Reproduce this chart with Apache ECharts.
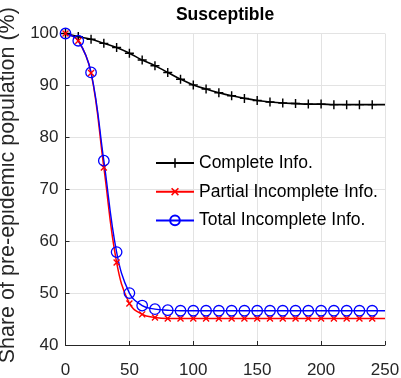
<!DOCTYPE html>
<html>
<head>
<meta charset="utf-8">
<script src="https://cdn.jsdelivr.net/npm/echarts@6/dist/echarts.min.js"></script>
<style>
html,body{margin:0;padding:0;background:#fff;}
#chart{width:401px;height:378px;}
</style>
</head>
<body>
<div id="chart"></div>
<script>
const titleText = 'Susceptible';
const yAxisName = 'Share of pre-epidemic population (%)';
const seriesNames = ['Complete Info.', 'Partial Incomplete Info.', 'Total Incomplete Info.'];
const xValues = [0,10,20,30,40,50,60,70,80,90,100,110,120,130,140,150,160,170,180,190,200,210,220,230,240,250];
const completeInfo = [100,99.4,98.9,98.1,97.3,96.2,94.9,93.8,92.5,91.2,90.1,89.3,88.6,88.0,87.5,87.1,86.8,86.6,86.5,86.4,86.4,86.3,86.3,86.3,86.3,86.3];
const partialInfo = [100,98.6,92.4,74.2,55.9,48.0,45.9,45.3,45.1,45.1,45.1,45.1,45.1,45.1,45.1,45.1,45.1,45.1,45.1,45.1,45.1,45.1,45.1,45.1,45.1,45.1];
const totalInfo = [100,98.6,92.5,75.5,57.9,50.0,47.6,46.9,46.7,46.6,46.6,46.6,46.6,46.6,46.6,46.6,46.6,46.6,46.6,46.6,46.6,46.6,46.6,46.6,46.6,46.6];
const xTicks = [0,50,100,150,200,250];
const yTicks = [40,50,60,70,80,90,100];

const font = "'Liberation Sans', Arial, sans-serif";
const plusPath = 'path://M4.2,0H5.8V4.2H10V5.8H5.8V10H4.2V5.8H0V4.2H4.2Z';

function toData(vals){
  return vals.map((v,i)=> i === vals.length-1 ? {value:[xValues[i], v], symbol:'none'} : [xValues[i], v]);
}

const chart = echarts.init(document.getElementById('chart'), null, {renderer:'canvas'});
chart.setOption({
  animation:false,
  backgroundColor:'#fff',
  title:{
    text:titleText, left:220, top:1, textAlign:'center',
    textStyle:{fontFamily:font, fontWeight:'bold', fontSize:17.5, color:'#000'}
  },
  grid:{left:65.5, right:16, top:33.5, bottom:33, containLabel:false, outerBoundsMode:'none'},
  legend:{
    orient:'vertical', left:150, top:148, itemWidth:38, itemHeight:12, itemGap:8.7,
    textStyle:{fontFamily:font, fontSize:17.5, color:'#000', lineHeight:20},
    data:seriesNames
  },
  xAxis:{
    type:'value', min:0, max:250, interval:50,
    axisLine:{show:true, lineStyle:{color:'#262626', width:1}},
    axisTick:{show:true, inside:true, length:4, lineStyle:{color:'#262626'}},
    axisLabel:{fontFamily:font, fontSize:17, color:'#262626', margin:17,
      formatter:(v)=> xTicks.includes(v) ? String(v) : ''},
    splitLine:{show:true, lineStyle:{color:'#e3e3e3', width:1}}
  },
  yAxis:{
    type:'value', min:40, max:100, interval:10,
    name:yAxisName, nameLocation:'middle', nameGap:43, nameRotate:90,
    nameTextStyle:{fontFamily:font, fontSize:21.5, color:'#262626', padding:[0,0,0,8]},
    axisLine:{show:true, lineStyle:{color:'#262626', width:1}},
    axisTick:{show:true, inside:true, length:4, lineStyle:{color:'#262626'}},
    axisLabel:{fontFamily:font, fontSize:17, color:'#262626', margin:7,
      formatter:(v)=> yTicks.includes(v) ? String(v) : ''},
    splitLine:{show:true, lineStyle:{color:'#e3e3e3', width:1}}
  },
  series:[
    {
      name:seriesNames[0], type:'line', data:toData(completeInfo),
      smooth:0.4,
      symbol:plusPath, symbolSize:9, showAllSymbol:true,
      lineStyle:{color:'#000', width:1.6},
      itemStyle:{color:'#000'}
    },
    {
      name:seriesNames[1], type:'line', data:toData(partialInfo),
      smooth:0.4,
      symbol:plusPath, symbolSize:8.5, symbolRotate:45, showAllSymbol:true,
      lineStyle:{color:'#ff0000', width:1.5},
      itemStyle:{color:'#ff0000'}
    },
    {
      name:seriesNames[2], type:'line', data:toData(totalInfo),
      smooth:0.4,
      symbol:'circle', symbolSize:10.5, showAllSymbol:true,
      lineStyle:{color:'#0000ff', width:1.4},
      itemStyle:{color:'rgba(0,0,0,0)', borderColor:'#0000ff', borderWidth:1.3}
    }
  ]
});
</script>
</body>
</html>
